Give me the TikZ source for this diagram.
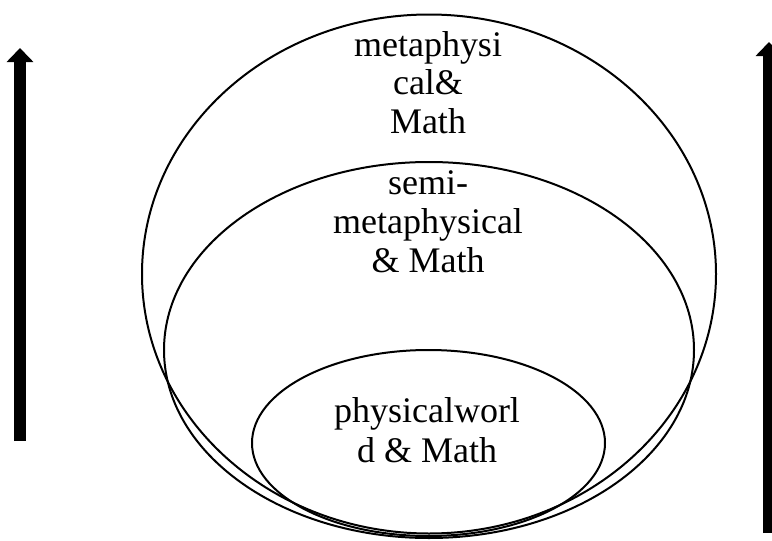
\documentclass[tikz,border=0pt]{standalone}
\usepackage{fontspec}
\setmainfont{Liberation Serif}
\usetikzlibrary{arrows.meta}
\begin{document}
\begin{tikzpicture}[x=1pt,y=-1pt,
  ring/.style={line width=2pt},
  lbl/.style={anchor=base,font=\fontsize{36}{39}\selectfont,inner sep=0pt},
  bigarrow/.style={line width=12pt,-{Triangle[width=26pt,length=14pt]}}]
\useasboundingbox (0,0) rectangle (772,541);
\draw[ring] (429,274) ellipse [x radius=287,y radius=259.5];
\draw[ring] (429,350) ellipse [x radius=265,y radius=188];
\draw[ring] (428.5,443) ellipse [x radius=176.5,y radius=93];
\node[lbl] (top1) at (428,56) {metaphysi};
\node[lbl] (top2) at (428,94) {cal\&};
\node[lbl] (top3) at (428,133) {Math};
\node[lbl] (mid1) at (428,194) {semi-};
\node[lbl] (mid2) at (428,233) {metaphysical};
\node[lbl] (mid3) at (428,272) {\& Math};
\node[lbl] (inn1) at (427,422) {physicalworl};
\node[lbl] (inn2) at (427,462) {d \& Math};
\coordinate (la) at (20,441);
\coordinate (lb) at (20,48);
\coordinate (ra) at (769,533);
\coordinate (rb) at (769,42);
\draw[bigarrow] (la) -- (lb);
\draw[bigarrow,line width=13pt] (ra) -- (rb);
\end{tikzpicture}
\end{document}
